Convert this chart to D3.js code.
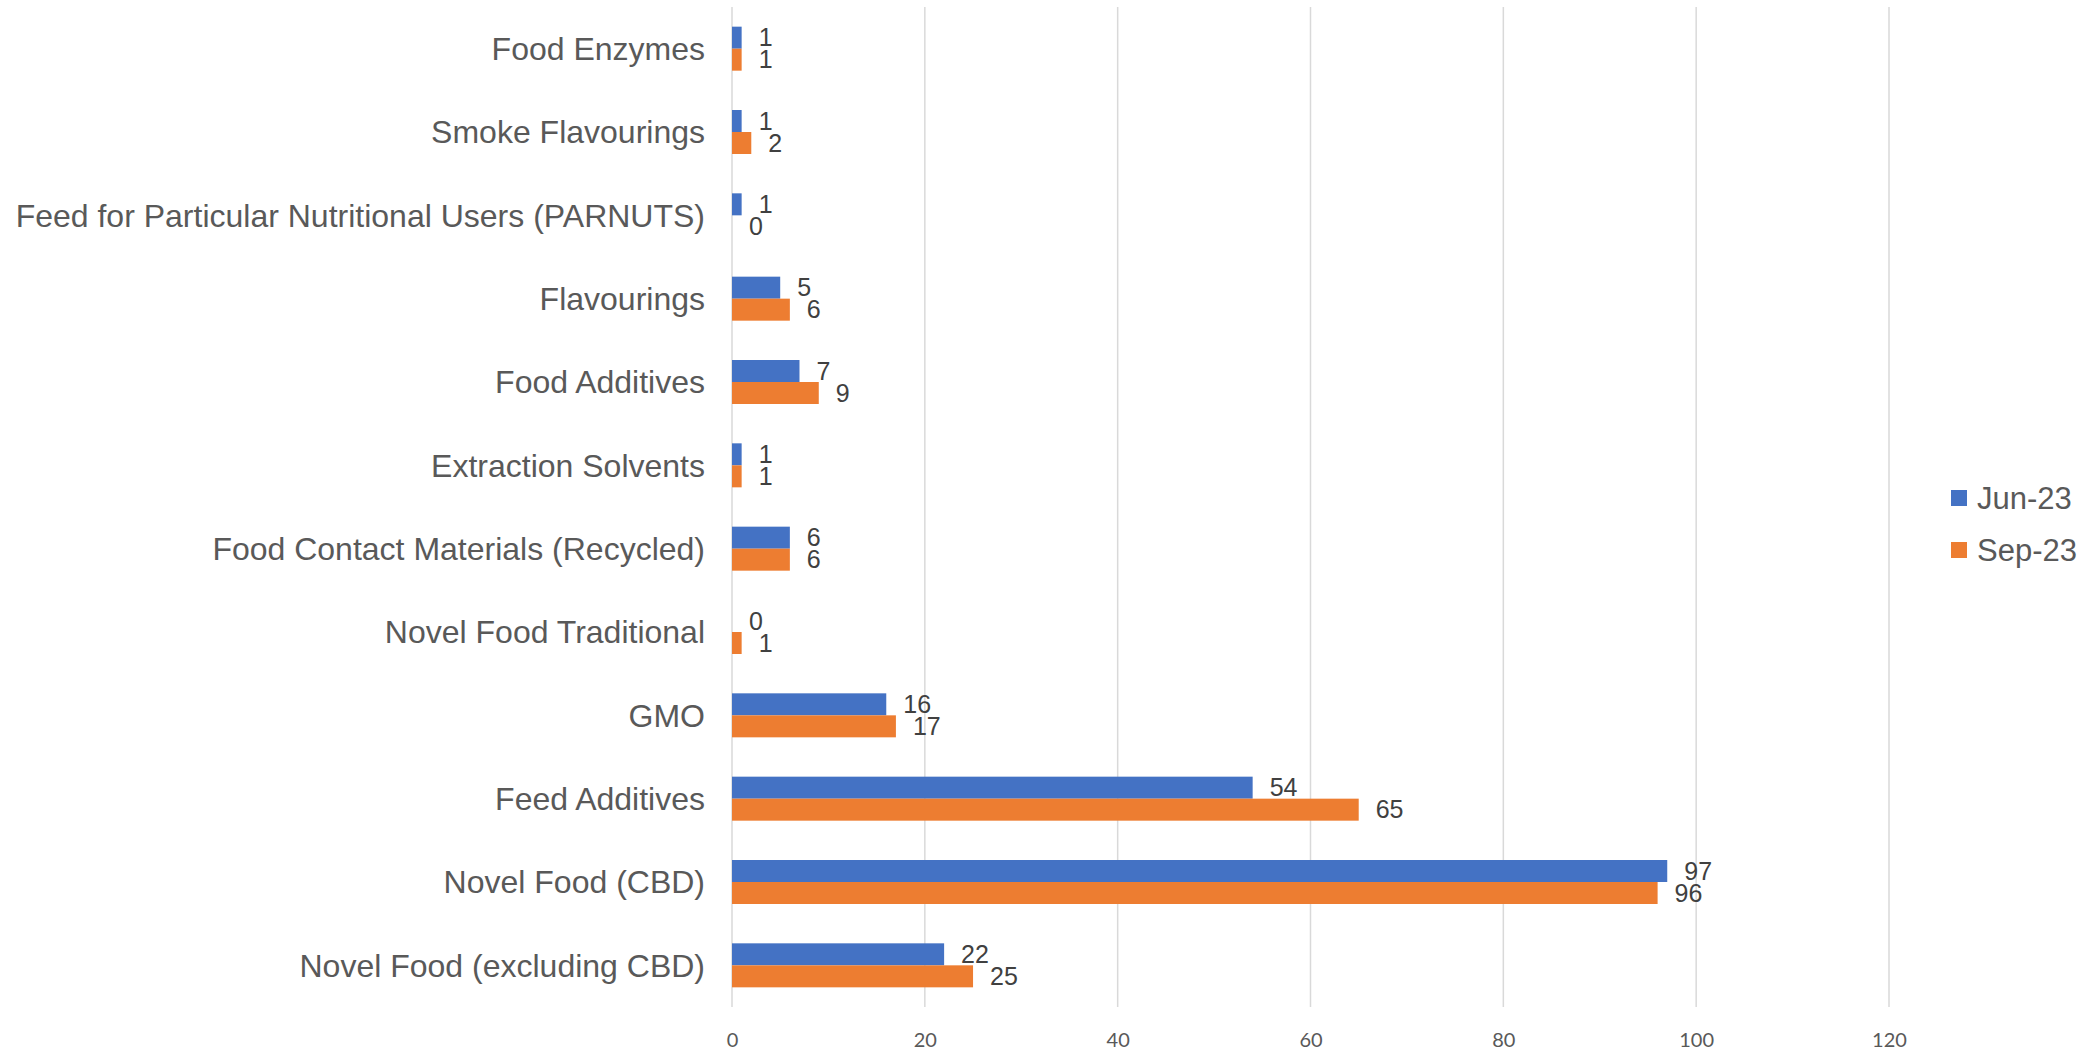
<!DOCTYPE html>
<html lang="en">
  <head>
    <meta charset="utf-8"/>
    <title>Applications by category</title>
    <script src="https://cdn.jsdelivr.net/npm/d3@7"></script>
    <style>
      body { margin: 0; background: #ffffff; }
      .catLabel { font-family: "Liberation Sans", Arial, sans-serif; font-size: 32px; fill: #595959; }
      .valLabel { font-family: "Liberation Sans", Arial, sans-serif; font-size: 25px; fill: #404040; }
      .tickLabel { font-family: Lato, "Open Sans", sans-serif; font-size: 20px; fill: #595959; }
      .legendLabel { font-family: "Liberation Sans", Arial, sans-serif; font-size: 31px; fill: #595959; }
    </style>
  </head>

  <body>
    <div id="chart-holder"></div>
    <script type="text/javascript">

      // categories, top to bottom
      var categories = [
        "Food Enzymes",
        "Smoke Flavourings",
        "Feed for Particular Nutritional Users (PARNUTS)",
        "Flavourings",
        "Food Additives",
        "Extraction Solvents",
        "Food Contact Materials (Recycled)",
        "Novel Food Traditional",
        "GMO",
        "Feed Additives",
        "Novel Food (CBD)",
        "Novel Food (excluding CBD)"
      ];

      // series values
      var jun23 = [1, 1, 1, 5, 7, 1, 6, 0, 16, 54, 97, 22];
      var sep23 = [1, 2, 0, 6, 9, 1, 6, 1, 17, 65, 96, 25];

      var seriesNames = ["Jun-23", "Sep-23"];
      var seriesColours = ["#4472C4", "#ED7D31"];

      // x axis ticks
      var xTicks = [0, 20, 40, 60, 80, 100, 120];

      // size of the whole picture
      var w = 2094;
      var h = 1049;

      // plot area
      var plotLeft = 732;
      var plotRight = 1889;
      var plotTop = 7;
      var plotBottom = 1007;

      var x = d3.scaleLinear()
        .domain([0, 120])
        .range([plotLeft, plotRight])
      ;

      // one band per category
      var y = d3.scaleBand()
        .domain(categories)
        .range([plotTop, plotBottom])
        .paddingInner(0.472)
        .paddingOuter(0.236)
      ;

      // two bars inside each band
      var ySeries = d3.scaleBand()
        .domain(seriesNames)
        .range([0, y.bandwidth()])
      ;

      var svg = d3.select("#chart-holder")
        .append("svg")
        .attr("width", w)
        .attr("height", h)
      ;

      // vertical gridlines
      svg.append("g")
        .selectAll("line")
        .data(xTicks)
        .enter()
        .append("line")
        .attr("x1", function(d) { return x(d); })
        .attr("x2", function(d) { return x(d); })
        .attr("y1", plotTop)
        .attr("y2", plotBottom)
        .attr("stroke", "#d9d9d9")
        .attr("stroke-width", 1.5)
      ;

      // tick labels under the plot
      var xAxis = d3.axisBottom(x)
        .tickValues(xTicks)
        .tickSize(0)
        .tickPadding(0)
      ;
      var axisGroup = svg.append("g")
        .attr("transform", "translate(0," + plotBottom + ")")
        .call(xAxis)
      ;
      axisGroup.select(".domain").remove();
      axisGroup.selectAll("text")
        .attr("class", "tickLabel")
        .attr("y", 33)
        .attr("dy", "0.35em")
        .attr("font-family", null)
        .attr("font-size", null)
        .attr("fill", null)
      ;

      // category labels
      svg.append("g")
        .selectAll("text")
        .data(categories)
        .enter()
        .append("text")
        .attr("class", "catLabel")
        .attr("x", plotLeft - 27)
        .attr("y", function(d) { return y(d) + y.bandwidth() / 2; })
        .attr("dy", "0.35em")
        .style("text-anchor", "end")
        .text(function(d) { return d; })
      ;

      // build rows for bars: one per category and series
      var seriesValues = [jun23, sep23];
      var rows = [];
      for (var s = 0; s < seriesNames.length; s++) {
        for (var i = 0; i < categories.length; i++) {
          rows.push({ cat: categories[i], series: seriesNames[s], idx: s, value: seriesValues[s][i] });
        }
      }

      // bars
      svg.append("g")
        .selectAll("rect")
        .data(rows)
        .enter()
        .append("rect")
        .attr("x", x(0))
        .attr("y", function(d) { return y(d.cat) + ySeries(d.series); })
        .attr("width", function(d) { return x(d.value) - x(0); })
        .attr("height", ySeries.bandwidth())
        .attr("fill", function(d) { return seriesColours[d.idx]; })
      ;

      // value labels at end of each bar
      svg.append("g")
        .selectAll("text")
        .data(rows)
        .enter()
        .append("text")
        .attr("class", "valLabel")
        .attr("x", function(d) { return x(d.value) + 17; })
        .attr("y", function(d) { return y(d.cat) + ySeries(d.series) + ySeries.bandwidth() / 2; })
        .attr("dy", "0.35em")
        .text(function(d) { return d.value; })
      ;

      // legend on the right
      var legend = svg.append("g")
        .selectAll("g")
        .data(seriesNames)
        .enter()
        .append("g")
        .attr("transform", function(d, i) { return "translate(1951," + (498 + i * 52) + ")"; })
      ;
      legend.append("rect")
        .attr("x", 0)
        .attr("y", -8)
        .attr("width", 16)
        .attr("height", 16)
        .attr("fill", function(d, i) { return seriesColours[i]; })
      ;
      legend.append("text")
        .attr("class", "legendLabel")
        .attr("x", 26)
        .attr("y", 0)
        .attr("dy", "0.35em")
        .text(function(d) { return d; })
      ;
    </script>
  </body>
</html>
